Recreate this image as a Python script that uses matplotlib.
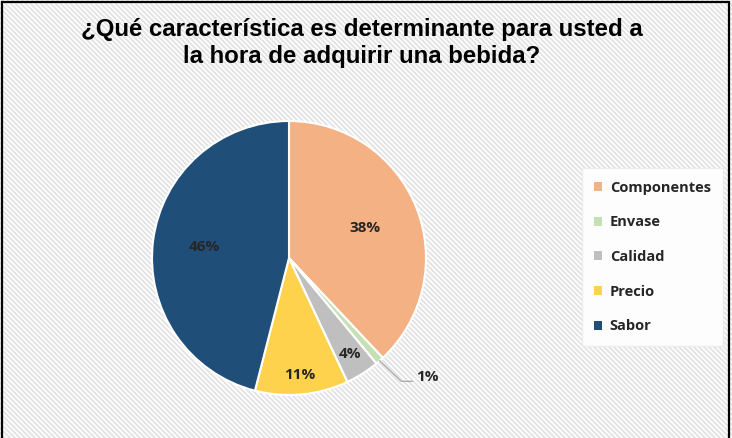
import numpy as np
import matplotlib
matplotlib.use("Agg")
from matplotlib import pyplot as plt
from matplotlib.patches import Patch, Rectangle
from matplotlib.lines import Line2D

# datos de la encuesta
categorias = ["Componentes", "Envase", "Calidad", "Precio", "Sabor"]
porcentajes = [38, 1, 4, 11, 46]
colores = ["#F4B183", "#C5E0B4", "#BFBFBF", "#FFD24D", "#1F4E79"]
titulo = "¿Qué característica es determinante para usted a\nla hora de adquirir una bebida?"

W, H = 732, 438
fig = plt.figure(figsize=(W / 100, H / 100), dpi=100)
fig.patch.set_facecolor("white")

# fondo rayado (diagonal hacia abajo)
paso = 5
for x0 in range(-H, W + H, paso):
    fig.add_artist(Line2D([x0 / W, (x0 + H) / W], [1, 0], transform=fig.transFigure,
                          color="#e2e2e2", lw=1.3, zorder=0))

# marco
fig.add_artist(Rectangle((2 / W, -0.02), (W - 5) / W, 1 - 2 / H + 0.02, transform=fig.transFigure,
                         fill=False, edgecolor="black", lw=1.6, zorder=5))

fig.text(0.494, 1 - 43 / H, titulo, ha="center", va="center", fontsize=17.3,
         fontweight="bold", family="Liberation Sans", linespacing=1.22, zorder=6)

cx, cy, r = 289, 258, 137
ax = fig.add_axes([(cx - r) / W, (H - cy - r) / H, 2 * r / W, 2 * r / H])
wedges, _ = ax.pie(porcentajes, colors=colores, startangle=90, counterclock=False,
                   wedgeprops=dict(edgecolor="white", linewidth=1.5))
ax.set_xlim(-1, 1)
ax.set_ylim(-1, 1)
ax.set_aspect("auto")
ax.axis("off")

# etiquetas
fuente = dict(fontsize=11, family="Open Sans", fontweight="bold", color="#262626")
dist = [0.6, None, 0.83, 0.86, 0.62]
for w, p, d in zip(wedges, porcentajes, dist):
    ang = np.deg2rad((w.theta1 + w.theta2) / 2)
    if d is None:
        x1, y1 = np.cos(ang) * 1.0, np.sin(ang) * 1.0
        ax.plot([x1, 0.82, 0.9], [y1, -0.9, -0.9], color="#a6a6a6", lw=0.9, clip_on=False)
        ax.text(0.93, -0.87, f"{p}%", ha="left", va="center", clip_on=False, **fuente)
        continue
    ax.text(np.cos(ang) * d, np.sin(ang) * d, f"{p}%", ha="center", va="center", **fuente)

handles = [Patch(facecolor=c, edgecolor="none") for c in colores]
leg = fig.legend(handles, categorias, loc="center left", bbox_to_anchor=(582 / W, 1 - 257 / H),
                 frameon=True, fancybox=False, handlelength=0.55, handleheight=0.55,
                 handletextpad=0.5, labelspacing=1.42, borderpad=0.85,
                 prop={"family": "Open Sans", "size": 10.5, "weight": "bold"}, borderaxespad=0)
leg.get_frame().set_facecolor("white")
leg.get_frame().set_edgecolor("#ececec")
leg.get_frame().set_alpha(0.9)
leg.set_zorder(6)
for t in leg.get_texts():
    t.set_color("#262626")

fig.savefig("out.png", dpi=100)
